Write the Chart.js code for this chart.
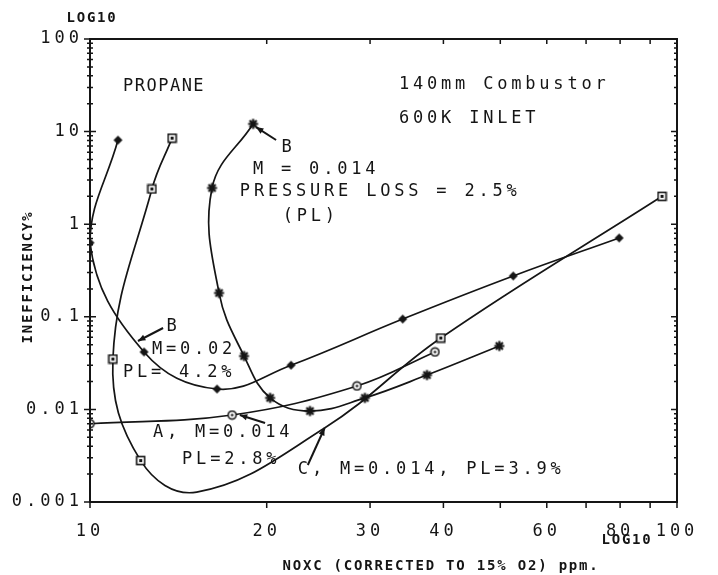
<!DOCTYPE html>
<html>
<head>
<meta charset="utf-8">
<script src="https://cdn.jsdelivr.net/npm/chart.js@4.4.0/dist/chart.umd.min.js"></script>
<style>
  html, body { margin: 0; padding: 0; background: #fff; }
  #wrap { position: relative; width: 718px; height: 575px; }
</style>
</head>
<body>
<div id="wrap"><canvas id="chart" width="718" height="575"></canvas></div>
<script>
/* ------------------------------
 * data : NOx (ppm) vs inefficiency (%), points in curve order
 * ------------------------------ */
const A_NOX   = [10.0, 17.46, 28.5, 38.7];
const A_INEFF = [0.0070, 0.0087, 0.0179, 0.0417];

const B14_NOX   = [18.96, 16.14, 16.59, 18.3, 20.27, 23.7, 29.4, 37.5, 49.8];
const B14_INEFF = [12.1, 2.46, 0.181, 0.0377, 0.0133, 0.0096, 0.0133, 0.0235, 0.0484];

const B20_NOX   = [11.16, 10.0, 12.36, 16.46, 22.0, 34.1, 52.6, 79.7];
const B20_INEFF = [8.1, 0.63, 0.0417, 0.0166, 0.030, 0.0946, 0.276, 0.71];

const C_NOX   = [13.8, 12.75, 10.94, 12.2, 15.2, 25.1, 39.6, 94.3];
const C_INEFF = [8.5, 2.4, 0.035, 0.0028, 0.00128, 0.0063, 0.059, 2.0];
const C_MEASURED = [0, 1, 2, 3, 6, 7];   // the rest only shape the fitted curve

const X_TICKS  = [10, 20, 30, 40, 50, 60, 70, 80, 90, 100];
const X_LABELS = ['10', '20', '30', '40', '', '60', '', '80', '', '100'];
const Y_DECADES = [0.001, 0.01, 0.1, 1, 10, 100];
const Y_LABELS  = ['0.001', '0.01', '0.1', '1', '10', '100'];

/* ------------------------------
 * text on the plot (data coords)
 * ------------------------------ */
const NOTES = [
  { text: 'PROPANE',              x: 11.38, y: 30.3,    sp: 1.5 },
  { text: '140mm Combustor',      x: 33.6,  y: 31.9 },
  { text: '600K INLET',           x: 33.6,  y: 13.7 },
  { text: 'B',                    x: 21.2,  y: 6.8 },
  { text: 'M = 0.014',            x: 18.95, y: 3.85 },
  { text: 'PRESSURE LOSS = 2.5%', x: 18.0,  y: 2.23 },
  { text: '(PL)',                 x: 21.3,  y: 1.20 },
  { text: 'B',                    x: 13.5,  y: 0.0776 },
  { text: 'M=0.02',               x: 12.75, y: 0.0438 },
  { text: 'PL= 4.2%',             x: 11.38, y: 0.0247 },
  { text: 'A, M=0.014',           x: 12.8,  y: 0.00556 },
  { text: 'PL=2.8%',              x: 14.35, y: 0.00284 },
  { text: 'C, M=0.014, PL=3.9%',  x: 22.6,  y: 0.00222 }
];

const ARROWS = [
  { from: [20.75, 8.12],   to: [19.18, 11.2] },
  { from: [13.32, 0.0757], to: [12.07, 0.0548] },
  { from: [19.87, 0.00713], to: [18.0, 0.0087] },
  { from: [23.5, 0.00251], to: [25.1, 0.0063] }
];

const INK = '#151515';
const PLOT_FONT = '"DejaVu Sans Mono", monospace';

/* ------------------------------
 * markers
 * ------------------------------ */
function marker(size, draw) {
  const c = document.createElement('canvas');
  c.width = c.height = size;
  const g = c.getContext('2d');
  g.strokeStyle = INK;
  g.fillStyle = INK;
  draw(g, size / 2);
  return c;
}

const M_DIAMOND = marker(11, (g, m) => {
  g.beginPath();
  g.moveTo(m, m - 4.5); g.lineTo(m + 4.5, m); g.lineTo(m, m + 4.5); g.lineTo(m - 4.5, m);
  g.closePath(); g.fill();
});

const M_SQUARE = marker(11, (g, m) => {
  g.fillStyle = '#fff'; g.fillRect(m - 4, m - 4, 8, 8);
  g.lineWidth = 1.6; g.strokeRect(m - 4, m - 4, 8, 8);
  g.fillStyle = INK; g.fillRect(m - 1.5, m - 1.5, 3, 3);
});

const M_CIRCLE = marker(11, (g, m) => {
  g.fillStyle = '#fff';
  g.beginPath(); g.arc(m, m, 4, 0, Math.PI * 2); g.fill();
  g.lineWidth = 1.6; g.stroke();
  g.fillStyle = INK;
  g.beginPath(); g.arc(m, m, 1.3, 0, Math.PI * 2); g.fill();
});

const M_STAR = marker(13, (g, m) => {
  g.lineWidth = 2.2;
  g.beginPath();
  for (let i = 0; i < 4; i++) {
    const a = i * Math.PI / 4;
    g.moveTo(m - 5 * Math.cos(a), m - 5 * Math.sin(a));
    g.lineTo(m + 5 * Math.cos(a), m + 5 * Math.sin(a));
  }
  g.stroke();
  g.fillRect(m - 2.5, m - 2.5, 5, 5);
});

function pts(xs, ys) {
  return xs.map((x, i) => ({ x: x, y: ys[i] }));
}

function curve(label, xs, ys, style, extra) {
  return Object.assign({
    label: label,
    data: pts(xs, ys),
    borderColor: INK,
    borderWidth: 1.7,
    tension: 0.4,
    fill: false,
    pointStyle: style,
    pointRadius: 5,
    pointHoverRadius: 5
  }, extra || {});
}

/* ------------------------------
 * frame, ticks, titles, notes
 * ------------------------------ */
const plotDecor = {
  id: 'plotDecor',
  beforeDraw(chart) {
    chart.ctx.letterSpacing = '4px';
  },
  afterDraw(chart) {
    const ctx = chart.ctx;
    const xs = chart.scales.x, ys = chart.scales.y;
    const { left, right, top, bottom } = chart.chartArea;

    ctx.save();
    ctx.strokeStyle = INK;
    ctx.fillStyle = INK;

    // frame
    ctx.lineWidth = 2;
    ctx.strokeRect(left, top, right - left, bottom - top);

    // x ticks : bottom outward, top inward
    ctx.lineWidth = 1.5;
    ctx.beginPath();
    X_TICKS.forEach(v => {
      const px = xs.getPixelForValue(v);
      ctx.moveTo(px, bottom); ctx.lineTo(px, bottom + 6);
      ctx.moveTo(px, top);    ctx.lineTo(px, top + 5);
    });

    // y ticks : every 1..9 in each decade
    Y_DECADES.forEach((d, k) => {
      const last = k === Y_DECADES.length - 1;
      for (let m = 1; m <= (last ? 1 : 9); m++) {
        const py = ys.getPixelForValue(d * m);
        const len = m === 1 ? 6 : 3;
        ctx.moveTo(left - len, py);  ctx.lineTo(left + len, py);
        ctx.moveTo(right - len, py); ctx.lineTo(right, py);
      }
    });
    ctx.stroke();

    // notes
    ctx.font = '17px ' + PLOT_FONT;
    ctx.textAlign = 'left';
    ctx.textBaseline = 'middle';
    NOTES.forEach(n => {
      ctx.letterSpacing = (n.sp != null ? n.sp : 3.8) + 'px';
      ctx.fillText(n.text, xs.getPixelForValue(n.x), ys.getPixelForValue(n.y));
    });

    // arrows
    ctx.lineWidth = 2;
    ARROWS.forEach(a => {
      const x0 = xs.getPixelForValue(a.from[0]), y0 = ys.getPixelForValue(a.from[1]);
      const x1 = xs.getPixelForValue(a.to[0]),   y1 = ys.getPixelForValue(a.to[1]);
      const ang = Math.atan2(y1 - y0, x1 - x0);
      ctx.beginPath();
      ctx.moveTo(x0, y0); ctx.lineTo(x1, y1);
      ctx.stroke();
      ctx.beginPath();
      ctx.moveTo(x1, y1);
      ctx.lineTo(x1 - 8 * Math.cos(ang - 0.4), y1 - 8 * Math.sin(ang - 0.4));
      ctx.lineTo(x1 - 8 * Math.cos(ang + 0.4), y1 - 8 * Math.sin(ang + 0.4));
      ctx.closePath();
      ctx.fill();
    });

    // axis titles
    ctx.font = 'bold 14px ' + PLOT_FONT;
    ctx.letterSpacing = '1.8px';
    ctx.textAlign = 'center';
    ctx.fillText('LOG10', 92, 18);
    ctx.fillText('LOG10', 627, 540);
    ctx.fillText('NOXC (CORRECTED TO 15% O2) ppm.', 441, 566);

    ctx.translate(28, 277);
    ctx.rotate(-Math.PI / 2);
    ctx.fillText('INEFFICIENCY%', 0, 0);

    ctx.restore();
    ctx.letterSpacing = '0px';
  }
};

/* ------------------------------
 * chart
 * ------------------------------ */
const ctxChart = document.getElementById('chart');

new Chart(ctxChart, {
  type: 'line',
  plugins: [plotDecor],
  data: {
    datasets: [
      curve('A, M=0.014, PL=2.8%', A_NOX, A_INEFF, M_CIRCLE),
      curve('B, M=0.014, PL=2.5%', B14_NOX, B14_INEFF, M_STAR),
      curve('B, M=0.02, PL=4.2%',  B20_NOX, B20_INEFF, M_DIAMOND),
      curve('C, M=0.014, PL=3.9%', C_NOX, C_INEFF, M_SQUARE, {
        pointRadius: ctx => C_MEASURED.includes(ctx.dataIndex) ? 5 : 0
      })
    ]
  },
  options: {
    responsive: false,
    animation: false,
    layout: { padding: { top: 39, right: 41, left: 0, bottom: 0 } },
    scales: {
      x: {
        type: 'logarithmic',
        min: 10,
        max: 100,
        afterFit: s => { s.height = 73; },
        afterBuildTicks: s => { s.ticks = X_TICKS.map(v => ({ value: v })); },
        grid: { display: false, drawTicks: false },
        border: { display: false },
        ticks: {
          autoSkip: false,
          maxRotation: 0,
          padding: 19,
          color: INK,
          font: { family: PLOT_FONT, size: 17 },
          callback: (v) => {
            const i = X_TICKS.indexOf(v);
            return i >= 0 ? X_LABELS[i] : '';
          }
        }
      },
      y: {
        type: 'logarithmic',
        min: 0.001,
        max: 100,
        afterFit: s => { s.width = 90; },
        afterBuildTicks: s => { s.ticks = Y_DECADES.map(v => ({ value: v })); },
        grid: { display: false, drawTicks: false },
        border: { display: false },
        ticks: {
          autoSkip: false,
          padding: 7,
          color: INK,
          font: { family: PLOT_FONT, size: 17 },
          callback: (v) => {
            const i = Y_DECADES.findIndex(d => Math.abs(v / d - 1) < 1e-6);
            return i >= 0 ? Y_LABELS[i] : '';
          }
        }
      }
    },
    plugins: {
      legend: { display: false },
      tooltip: { enabled: false }
    }
  }
});
</script>
</body>
</html>
